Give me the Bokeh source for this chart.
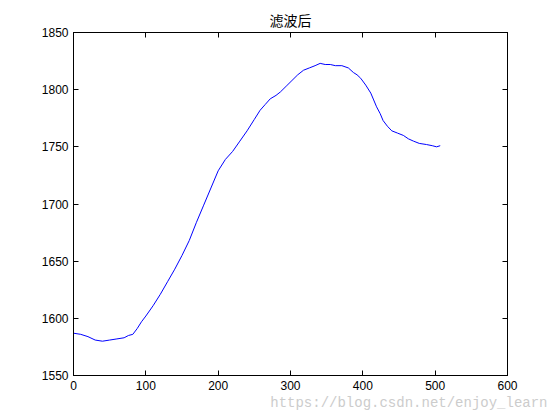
from bokeh.plotting import figure
from bokeh.models import LinearAxis, FixedTicker, Range1d, Title
from bokeh.embed import file_html
from bokeh.resources import INLINE

title_text = "滤波后"
watermark_text = "https://blog.csdn.net/enjoy_learn"
x_vals = [0, 10, 20, 30, 40, 50, 60, 70, 76, 82, 88, 94, 100, 110, 120, 130, 140,
          150, 160, 170, 180, 190, 200, 210, 220, 230, 240, 250, 258, 265, 272, 280,
          286, 294, 302, 310, 318, 326, 334, 341, 348, 355, 362, 371, 380, 387, 392,
          397, 404, 411, 415, 419, 424, 428, 434, 440, 448, 456, 463, 470, 478, 488,
          496, 502, 507]
y_vals = [1587, 1586, 1584, 1581, 1580, 1581, 1582, 1583, 1585, 1586, 1591, 1597, 1602,
          1611, 1621, 1632, 1643, 1655, 1668, 1684, 1699, 1714, 1729, 1739, 1746, 1755,
          1764, 1774, 1782, 1787, 1792, 1795, 1798, 1803, 1808, 1813, 1817, 1819, 1821,
          1823, 1822, 1822, 1821, 1821, 1819, 1815, 1813, 1810, 1804, 1797, 1791, 1785,
          1779, 1773, 1768, 1764, 1762, 1760, 1757, 1755, 1753, 1752, 1751, 1750, 1751]
x_ticks = [0, 100, 200, 300, 400, 500, 600]
y_ticks = [1550, 1600, 1650, 1700, 1750, 1800, 1850]

W, H = 552, 412
p = figure(width=W, height=H, output_backend="svg", toolbar_location=None,
           x_range=Range1d(0, 600), y_range=Range1d(1550, 1850),
           min_border_left=73, min_border_right=W - 507,
           min_border_top=32, min_border_bottom=H - 375)
p.title.text = title_text
p.title.align = "center"
p.title.text_font = "Noto Sans CJK SC"
p.title.text_font_size = "14px"
p.title.text_font_style = "normal"
p.title.text_color = "black"
p.title.offset = 0
p.title.standoff = 6

p.line(x_vals, y_vals, line_color="#0000ff", line_width=1)

p.grid.visible = False
p.outline_line_color = "black"
p.outline_line_width = 1
p.background_fill_color = "white"
p.border_fill_color = "white"

def style(ax, ticks, labels=True):
    ax.ticker = FixedTicker(ticks=ticks)
    ax.axis_line_color = "black"
    ax.major_tick_in = 5
    ax.major_tick_out = 0
    ax.minor_tick_line_color = None
    ax.major_tick_line_color = "black"
    ax.major_label_text_font = "Liberation Sans"
    ax.major_label_text_font_size = "12px"
    ax.major_label_text_color = "black"
    ax.major_label_standoff = 5
    if not labels:
        ax.major_label_overrides = {t: "" for t in ticks}
        ax.major_label_standoff = 0

for ax in p.xaxis:
    style(ax, x_ticks)
for ax in p.yaxis:
    style(ax, y_ticks)

top = LinearAxis()
style(top, x_ticks, False)
p.add_layout(top, "above")
right = LinearAxis()
style(right, y_ticks, False)
p.add_layout(right, "right")

wm = Title(text=watermark_text, align="right", text_font="Liberation Mono",
           text_font_size="14px", text_font_style="normal", text_color="#cccccc",
           offset=-40, standoff=0)
p.add_layout(wm, "below")

open("out.html", "w").write(file_html(p, INLINE))
